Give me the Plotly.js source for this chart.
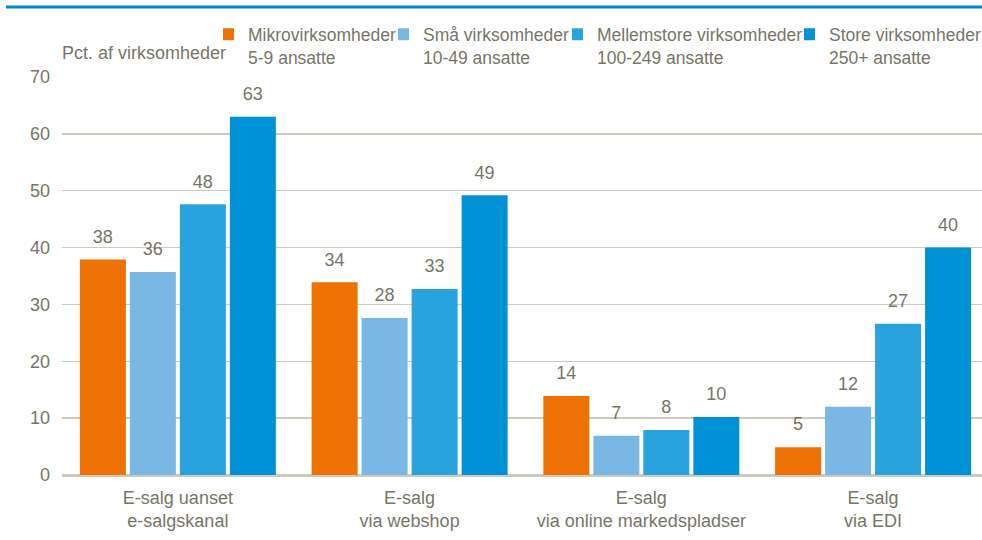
<!DOCTYPE html>
<html>
<head>
<meta charset="utf-8">
<script src="https://cdn.plot.ly/plotly-3.0.1.min.js"></script>
<style>html,body{margin:0;padding:0;background:#fff;}#chart{width:982px;height:540px;}</style>
</head>
<body>
<div id="chart"></div>
<script>
const categories = ["E-salg uanset<br>e-salgskanal", "E-salg<br>via webshop", "E-salg<br>via online markedspladser", "E-salg<br>via EDI"];
const seriesNames = ["Mikrovirksomheder<br>5-9 ansatte", "Små virksomheder<br>10-49 ansatte", "Mellemstore virksomheder<br>100-249 ansatte", "Store virksomheder<br>250+ ansatte"];
const mikro = [37.9, 33.9, 13.9, 4.9];
const smaa = [35.7, 27.6, 6.9, 12.0];
const mellem = [47.6, 32.7, 7.9, 26.6];
const store = [63.0, 49.2, 10.2, 40.0];
const yTicks = [0, 10, 20, 30, 40, 50, 60, 70];
const yAxisLabel = "Pct. af virksomheder";

const colors = ["#EE7203", "#79B7E4", "#29A3DE", "#0091D6"];
const allSeries = [mikro, smaa, mellem, store];
const legendIds = ["legend", "legend2", "legend3", "legend4"];
const legendX = [0.1750, 0.3652, 0.5543, 0.8065];
const FONT = "'Liberation Sans', Arial, sans-serif";
const TXT = "#767667";
const FS = 18;
const LFS = 17.5;

const traces = [];
allSeries.forEach((vals, i) => {
  traces.push({
    type: "bar",
    name: seriesNames[i],
    legend: legendIds[i],
    x: categories,
    y: vals,
    marker: {color: colors[i], line: {width: 0}},
    hoverinfo: "skip"
  });
});
allSeries.forEach((vals, i) => {
  traces.push({
    type: "scatter",
    mode: "markers+text",
    x: categories,
    y: vals,
    text: vals.map(v => Math.round(v).toString()),
    textposition: "top center",
    textfont: {family: FONT, size: FS, color: TXT},
    marker: {size: 18, color: "rgba(0,0,0,0)"},
    showlegend: false,
    hoverinfo: "skip",
    cliponaxis: false
  });
});

function legendCfg(x) {
  return {
    orientation: "h",
    x: x, xanchor: "left",
    y: 1.1525, yanchor: "top",
    bgcolor: "rgba(0,0,0,0)",
    borderwidth: 0,
    font: {family: FONT, size: LFS, color: TXT},
    itemwidth: 30,
    indentation: -15,
    valign: "top",
    itemclick: false, itemdoubleclick: false
  };
}

const layout = {
  width: 982, height: 540,
  margin: {l: 62, r: 0, t: 77, b: 65, pad: 0, autoexpand: false},
  paper_bgcolor: "#ffffff", plot_bgcolor: "#ffffff",
  font: {family: FONT, size: FS, color: TXT},
  barmode: "group",
  bargap: 0.137,
  bargroupgap: 0.08,
  scattermode: "group",
  scattergap: 0.137,
  showlegend: true,
  legend: legendCfg(legendX[0]),
  legend2: legendCfg(legendX[1]),
  legend3: legendCfg(legendX[2]),
  legend4: legendCfg(legendX[3]),
  xaxis: {
    type: "category",
    range: [-0.5, 3.47],
    showgrid: false,
    showline: false,
    zeroline: false,
    ticks: "",
    tickfont: {family: FONT, size: FS, color: TXT},
    ticklabelstandoff: 10,
    fixedrange: true
  },
  yaxis: {
    range: [0, 70],
    tickvals: yTicks,
    ticktext: yTicks.map(String),
    showgrid: true,
    gridcolor: "#cbcabf",
    gridwidth: 1.5,
    zeroline: true,
    zerolinecolor: "#cbcabf",
    zerolinewidth: 3,
    showline: false,
    ticks: "",
    tickfont: {family: FONT, size: FS, color: TXT},
    ticklabelstandoff: 11,
    fixedrange: true
  },
  annotations: [{
    text: yAxisLabel,
    xref: "paper", yref: "paper",
    x: -0.002, y: 1.060,
    xanchor: "left", yanchor: "middle",
    showarrow: false,
    font: {family: FONT, size: FS, color: TXT}
  }],
  shapes: [{
    type: "line",
    xref: "paper", yref: "paper",
    x0: -0.061, x1: 1, y0: 1.176, y1: 1.176,
    line: {color: "#0089CF", width: 3}
  }]
};

Plotly.newPlot("chart", traces, layout, {displayModeBar: false, staticPlot: true});
</script>
</body>
</html>
